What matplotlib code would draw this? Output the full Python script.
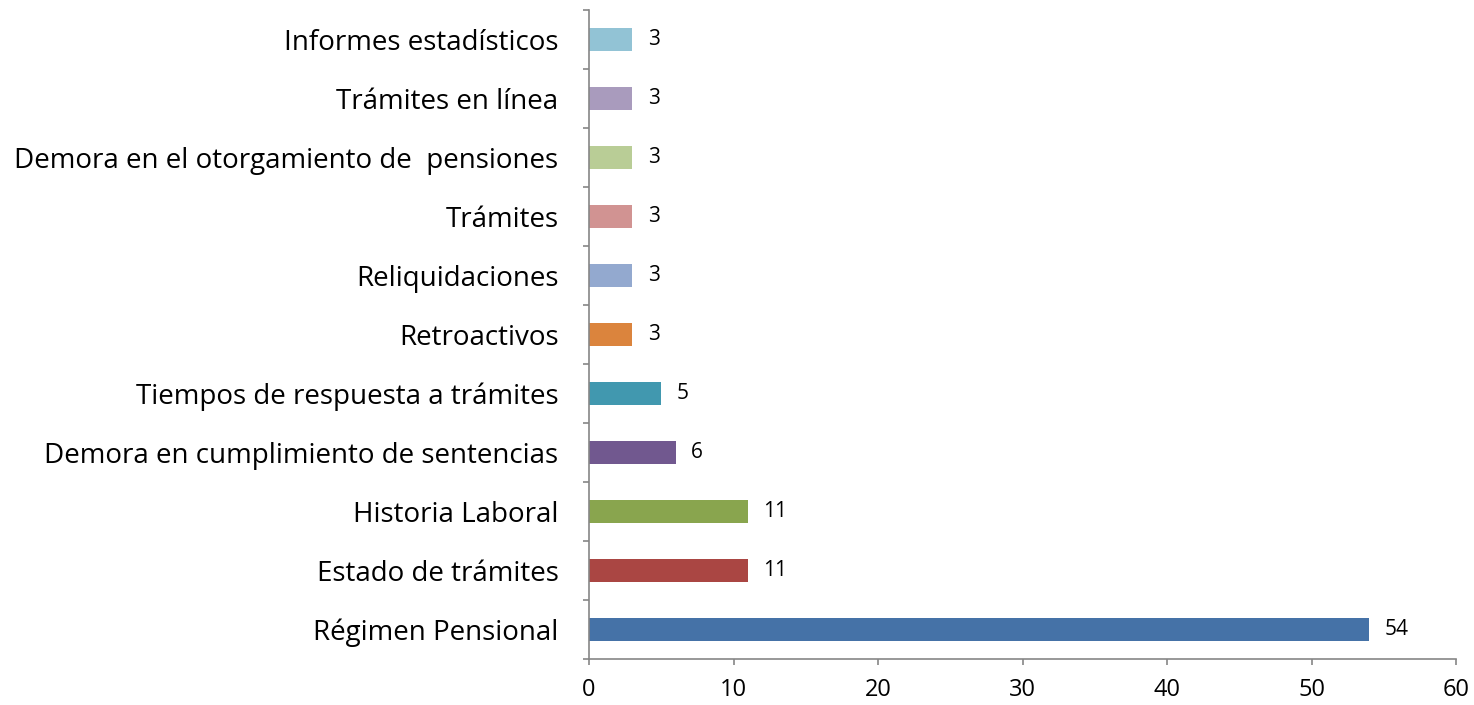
import matplotlib
matplotlib.use('Agg')
import matplotlib.pyplot as plt
import numpy as np

categorias = ['Régimen Pensional', 'Estado de trámites', 'Historia Laboral',
              'Demora en cumplimiento de sentencias', 'Tiempos de respuesta a trámites',
              'Retroactivos', 'Reliquidaciones', 'Trámites',
              'Demora en el otorgamiento de  pensiones', 'Trámites en línea',
              'Informes estadísticos']
valores = [54, 11, 11, 6, 5, 3, 3, 3, 3, 3, 3]
colores = ['#4572A7', '#AA4643', '#89A54E', '#71588F', '#4198AF', '#DB843D',
           '#93A9CF', '#D19392', '#B9CD96', '#A99BBD', '#92C3D5']
xticks = [0, 10, 20, 30, 40, 50, 60]

plt.rcParams['font.family'] = ['Open Sans', 'DejaVu Sans']

fig = plt.figure(figsize=(14.74, 7.05), dpi=100)
ax = fig.add_axes([589/1474, 46/705, (1456-589)/1474, 649/705])

y = np.arange(len(categorias))
ax.barh(y, valores, height=0.4, color=colores)

# etiquetas de datos
for yi, v in zip(y, valores):
    ax.annotate(str(v), (v, yi), xytext=(11, 0), textcoords='offset points',
                va='center', ha='left', fontsize=15)

ax.set_xlim(0, 60)
ax.set_ylim(-0.5, len(categorias) - 0.5)
ax.set_xticks(xticks)
ax.set_yticks(y)
ax.set_yticklabels(categorias, fontsize=20)
ax.set_yticks(np.arange(-0.5, len(categorias)), minor=True)
ax.tick_params(axis='y', which='major', length=0, pad=22)
ax.tick_params(axis='y', which='minor', length=4.5, color='#868686', width=1.2, direction='out')
ax.tick_params(axis='x', length=4.5, color='#868686', width=1.2, pad=9, labelsize=17)

for s in ['top', 'right']:
    ax.spines[s].set_visible(False)
for s in ['left', 'bottom']:
    ax.spines[s].set_color('#868686')
    ax.spines[s].set_linewidth(1.2)

fig.savefig('out.png', dpi=100)
